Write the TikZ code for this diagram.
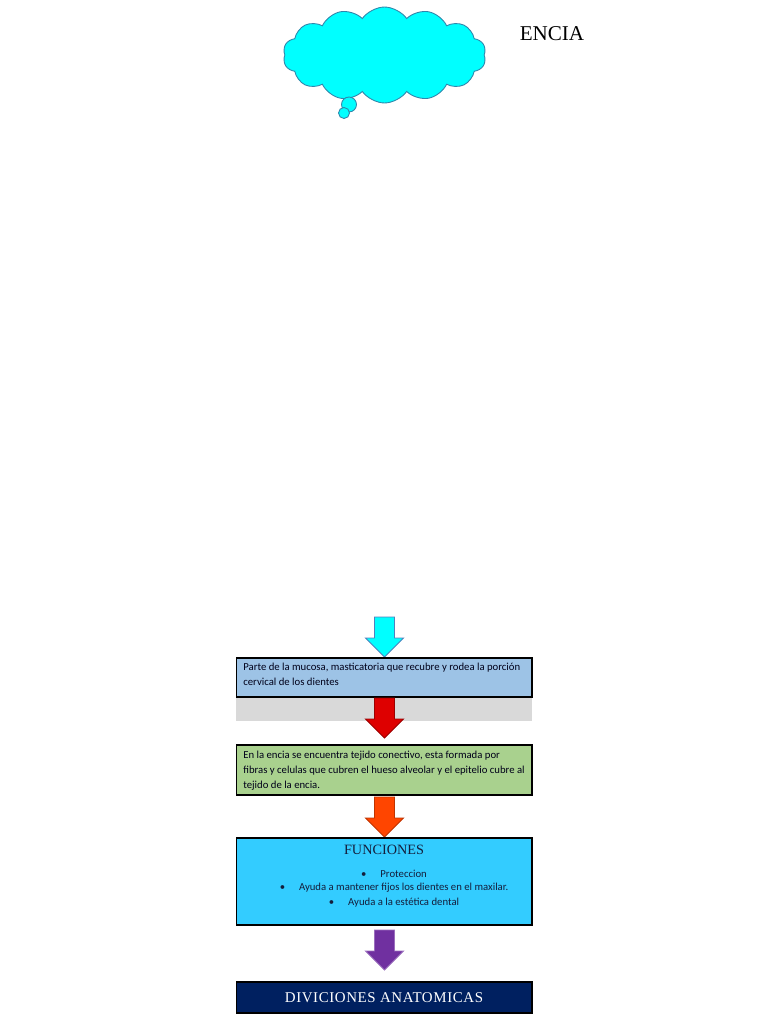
\documentclass[tikz,border=0pt]{standalone}
\usepackage{fontspec}
\setmainfont{Liberation Serif}
\newfontfamily\calibri{Carlito}
\usetikzlibrary{positioning,shapes.symbols}
\definecolor{cloudcyan}{RGB}{0,255,255}
\definecolor{cloudline}{RGB}{49,133,170}
\definecolor{mucosa}{RGB}{157,195,230}
\definecolor{band}{RGB}{217,217,217}
\definecolor{tejido}{RGB}{169,209,142}
\definecolor{funcion}{RGB}{51,204,255}
\definecolor{navybox}{RGB}{0,32,96}
\definecolor{redarrow}{RGB}{222,0,0}
\definecolor{orangearrow}{RGB}{255,69,0}
\definecolor{purplearrow}{RGB}{112,48,160}
\definecolor{bullettext}{RGB}{20,30,60}

\begin{document}
\begin{tikzpicture}[x=0.02cm, y=-0.02cm,
    box/.style={draw=black, line width=0.6pt, minimum width=5.92cm, inner sep=0pt},
    boxtext/.style={anchor=west, align=left, inner sep=0pt, text=black!90!blue, font=\calibri\fontsize{6.1}{8.4}\selectfont},
    bulletline/.style={font=\calibri\fontsize{6.1}{8}\selectfont, text=bullettext, inner sep=0pt},
    blockarrow/.pic={\path[pic actions] (-10,0) -- (10,0) -- (10,21) -- (19,21) -- (0,40) -- (-19,21) -- (-10,21) -- cycle;},
]
  \useasboundingbox (0,0) rectangle (768,1024);

  \node[cloud, cloud puffs=14, cloud puff arc=110, aspect=2.1, draw=cloudline, fill=cloudcyan, line width=0.5pt, minimum width=4.06cm, minimum height=1.92cm, inner sep=0pt] (nube) at (384.5,55) {};
  \node[circle, draw=cloudline, fill=cloudcyan, line width=0.5pt, minimum size=0.3cm, inner sep=0pt] (burbuja1) at (349,104.5) {};
  \node[circle, draw=cloudline, fill=cloudcyan, line width=0.5pt, minimum size=0.22cm, inner sep=0pt] (burbuja2) at (344,113) {};
  \node[font=\fontsize{12}{14}\selectfont] (titulo) at (552,34) {ENCIA};

  \pic[fill=cloudcyan, draw={rgb,255:red,79;green,129;blue,189}, line width=0.5pt] (flecha0) at (384.5,617) {blockarrow};

  \node[fill=band, minimum width=5.92cm, minimum height=0.48cm, inner sep=0pt] (banda) at (384,709) {};
  \node[box, fill=mucosa, minimum height=0.78cm] (mucosa) at (384,677.5) {};
  \node[boxtext] (mucosatxt) at (243,674.5) {Parte de la mucosa, masticatoria que recubre y rodea la porción\\cervical de los dientes};
  \pic[fill=redarrow, draw=redarrow!70!black, line width=0.5pt] (flecha1) at (384.5,698) {blockarrow};

  \node[box, fill=tejido, minimum height=1.0cm] (tejido) at (384,770) {};
  \node[boxtext] (tejidotxt) at (243,770.5) {En la encia se encuentra tejido conectivo, esta formada por\\fibras y celulas que cubren el hueso alveolar y el epitelio cubre al\\tejido de la encia.};
  \pic[fill=orangearrow, draw=orangearrow!75!black, line width=0.5pt] (flecha2) at (384.5,797) {blockarrow};

  \node[box, fill=funcion, minimum height=1.74cm] (funciones) at (384,881.5) {};
  \node[font=\fontsize{8.1}{10}\selectfont, text=bullettext] (funtit) at (384,850) {FUNCIONES};
  \node[bulletline] (f1) at (394,874) {\textbullet\hspace{1.3em}Proteccion};
  \node[bulletline] (f2) at (394,888) {\textbullet\hspace{1.3em}Ayuda a mantener fijos los dientes en el maxilar.};
  \node[bulletline] (f3) at (394,903) {\textbullet\hspace{1.3em}Ayuda a la estética dental};
  \pic[fill=purplearrow, draw=purplearrow!70!white, line width=0.5pt] (flecha3) at (384.5,930) {blockarrow};

  \node[box, fill=navybox, minimum height=0.62cm, text=white, font=\addfontfeatures{LetterSpace=4}\fontsize{8.5}{10}\selectfont] (diviciones) at (384,997.5) {DIVICIONES ANATOMICAS};
\end{tikzpicture}
\end{document}
